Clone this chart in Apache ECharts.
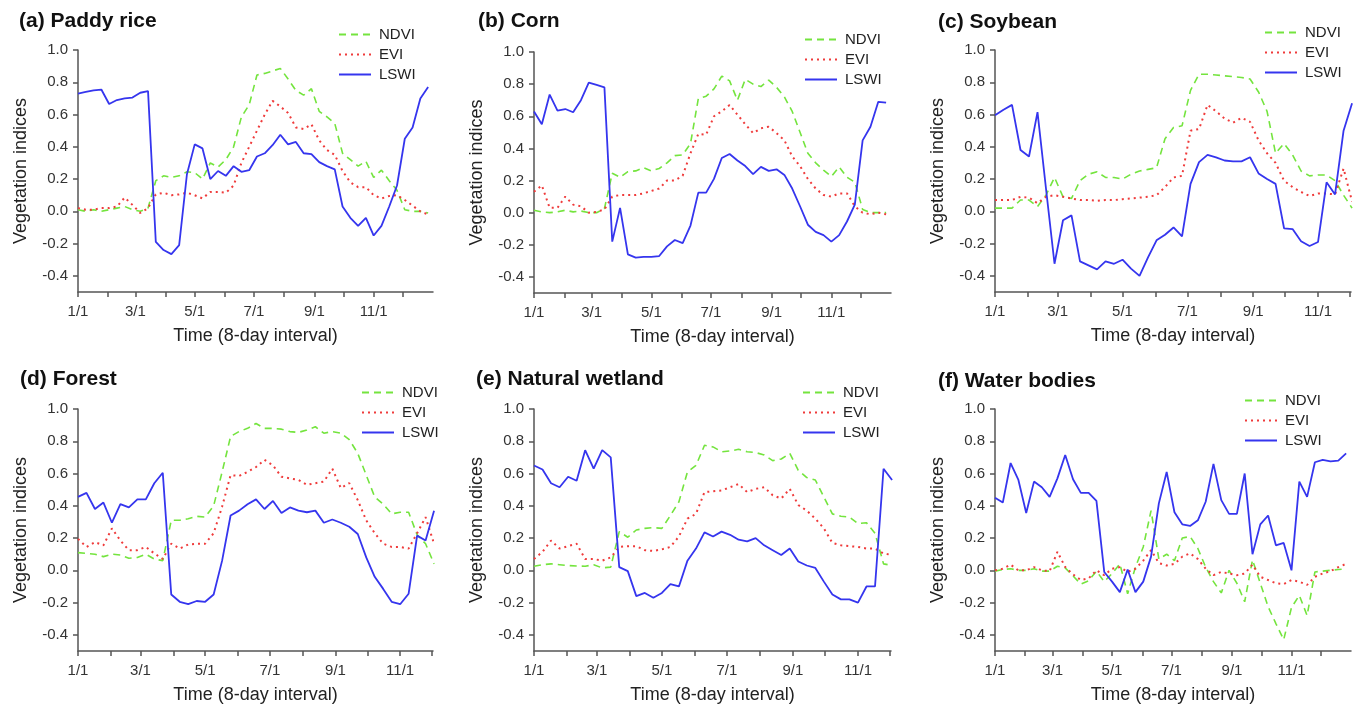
<!DOCTYPE html>
<html>
<head>
<meta charset="utf-8">
<script src="https://cdn.jsdelivr.net/npm/echarts@6/dist/echarts.min.js"></script>
<style>
  html, body { margin: 0; padding: 0; background: #fff; }
  #chart { width: 1358px; height: 708px; }
</style>
</head>
<body>
<div id="chart"></div>
<script>
// day of year of each 8-day composite
var days46 = [0, 8, 16, 24, 32, 40, 48, 56, 64, 72, 80, 88, 96, 104, 112, 120, 128, 136, 144, 152,
  160, 168, 176, 184, 192, 200, 208, 216, 224, 232, 240, 248, 256, 264, 272, 280, 288, 296, 304, 312,
  320, 328, 336, 344, 352, 360];
var days43 = [0, 8, 16, 24, 32, 40, 48, 56, 64, 72, 80, 88, 96, 104, 112, 120, 128, 136, 144, 152,
  160, 168, 176, 184, 192, 200, 208, 216, 224, 232, 240, 248, 256, 264, 272, 280, 288, 296, 304, 312,
  320, 328, 336];

var monthDays = [0, 31, 59, 90, 120, 151, 181, 212, 243, 273, 304, 334];
var labelDays = [0, 59, 120, 181, 243, 304];
var labelText = ['1/1', '3/1', '5/1', '7/1', '9/1', '11/1'];
var yTicks = [-0.4, -0.2, 0, 0.2, 0.4, 0.6, 0.8, 1.0];

var titles = ['(a) Paddy rice', '(b) Corn', '(c) Soybean', '(d) Forest', '(e) Natural wetland', '(f) Water bodies'];
var indexNames = ['NDVI', 'EVI', 'LSWI'];

// (a) Paddy rice
var riceNdvi = [0.01, 0.00, 0.01, 0.00, 0.01, 0.02, 0.03, 0.01, 0.00, 0.02,
  0.19, 0.22, 0.21, 0.22, 0.245, 0.24, 0.20, 0.30, 0.275, 0.32,
  0.40, 0.585, 0.66, 0.845, 0.855, 0.87, 0.886, 0.82, 0.75, 0.72,
  0.76, 0.62, 0.585, 0.545, 0.36, 0.32, 0.28, 0.31, 0.21, 0.255,
  0.19, 0.13, 0.01, 0.00, 0.00, -0.01];
var riceEvi = [0.02, 0.01, 0.01, 0.02, 0.02, 0.03, 0.085, 0.04, -0.01, 0.02,
  0.105, 0.115, 0.10, 0.105, 0.115, 0.10, 0.08, 0.12, 0.12, 0.115,
  0.16, 0.30, 0.40, 0.50, 0.60, 0.685, 0.65, 0.61, 0.52, 0.51,
  0.54, 0.44, 0.38, 0.35, 0.25, 0.18, 0.15, 0.15, 0.10, 0.08,
  0.095, 0.10, 0.07, 0.035, 0.00, -0.02];
var riceLswi = [0.73, 0.74, 0.75, 0.755, 0.665, 0.69, 0.70, 0.705, 0.735, 0.745,
  -0.19, -0.24, -0.265, -0.21, 0.23, 0.415, 0.39, 0.20, 0.25, 0.22,
  0.28, 0.245, 0.255, 0.34, 0.36, 0.41, 0.475, 0.415, 0.43, 0.36,
  0.355, 0.305, 0.28, 0.26, 0.03, -0.04, -0.09, -0.04, -0.15, -0.09,
  0.03, 0.16, 0.45, 0.52, 0.70, 0.77];

// (b) Corn
var cornNdvi = [0.015, 0.005, 0.00, 0.005, 0.015, 0.005, 0.01, 0.00, 0.00, 0.025,
  0.245, 0.22, 0.255, 0.26, 0.28, 0.26, 0.275, 0.31, 0.355, 0.36,
  0.43, 0.71, 0.725, 0.77, 0.85, 0.82, 0.70, 0.83, 0.80, 0.785,
  0.825, 0.78, 0.72, 0.63, 0.50, 0.37, 0.31, 0.265, 0.225, 0.285,
  0.22, 0.19, 0.02, 0.00, 0.00, 0.00];
var cornEvi = [0.13, 0.17, 0.03, 0.03, 0.10, 0.05, 0.04, 0.00, 0.005, 0.02,
  0.10, 0.11, 0.11, 0.11, 0.12, 0.135, 0.15, 0.20, 0.20, 0.23,
  0.37, 0.49, 0.485, 0.60, 0.63, 0.67, 0.61, 0.55, 0.495, 0.525,
  0.535, 0.495, 0.45, 0.35, 0.29, 0.21, 0.15, 0.11, 0.10, 0.12,
  0.12, 0.04, 0.00, -0.01, 0.00, -0.01];
var cornLswi = [0.63, 0.55, 0.735, 0.635, 0.645, 0.625, 0.70, 0.81, 0.795, 0.78,
  -0.18, 0.03, -0.26, -0.28, -0.275, -0.275, -0.27, -0.21, -0.17, -0.19,
  -0.08, 0.125, 0.125, 0.21, 0.34, 0.365, 0.325, 0.29, 0.24, 0.285,
  0.26, 0.27, 0.235, 0.15, 0.04, -0.075, -0.12, -0.14, -0.18, -0.14,
  -0.055, 0.05, 0.45, 0.535, 0.69, 0.685];

// (c) Soybean
var soyNdvi = [0.02, 0.02, 0.02, 0.07, 0.07, 0.03, 0.10, 0.21, 0.09, 0.08,
  0.19, 0.23, 0.245, 0.21, 0.21, 0.20, 0.23, 0.25, 0.26, 0.27,
  0.45, 0.52, 0.53, 0.75, 0.85, 0.85, 0.845, 0.84, 0.835, 0.83,
  0.82, 0.74, 0.62, 0.36, 0.42, 0.35, 0.25, 0.22, 0.225, 0.225,
  0.19, 0.10, 0.02];
var soyEvi = [0.07, 0.07, 0.07, 0.09, 0.085, 0.05, 0.09, 0.10, 0.09, 0.08,
  0.07, 0.07, 0.065, 0.07, 0.07, 0.075, 0.08, 0.085, 0.09, 0.10,
  0.15, 0.21, 0.22, 0.50, 0.51, 0.66, 0.62, 0.575, 0.55, 0.58,
  0.555, 0.44, 0.36, 0.30, 0.19, 0.15, 0.12, 0.095, 0.11, 0.11,
  0.105, 0.265, 0.06];
var soyLswi = [0.595, 0.63, 0.66, 0.38, 0.34, 0.615, 0.14, -0.325, -0.055, -0.025,
  -0.31, -0.335, -0.36, -0.31, -0.325, -0.30, -0.355, -0.40, -0.285, -0.18,
  -0.145, -0.10, -0.155, 0.17, 0.305, 0.35, 0.335, 0.315, 0.31, 0.31,
  0.335, 0.235, 0.20, 0.17, -0.105, -0.11, -0.185, -0.215, -0.19, 0.18,
  0.105, 0.50, 0.67];

// (d) Forest
var forestNdvi = [0.11, 0.105, 0.10, 0.085, 0.10, 0.095, 0.075, 0.08, 0.10, 0.07,
  0.06, 0.31, 0.31, 0.32, 0.335, 0.33, 0.40, 0.61, 0.83, 0.86,
  0.88, 0.91, 0.88, 0.88, 0.875, 0.86, 0.855, 0.87, 0.89, 0.85,
  0.86, 0.85, 0.81, 0.725, 0.59, 0.455, 0.41, 0.35, 0.36, 0.36,
  0.22, 0.165, 0.04];
var forestEvi = [0.195, 0.145, 0.175, 0.155, 0.26, 0.185, 0.125, 0.125, 0.145, 0.105,
  0.07, 0.165, 0.135, 0.16, 0.165, 0.165, 0.23, 0.395, 0.59, 0.585,
  0.61, 0.64, 0.685, 0.65, 0.58, 0.57, 0.56, 0.53, 0.54, 0.55,
  0.63, 0.51, 0.54, 0.435, 0.31, 0.23, 0.165, 0.145, 0.145, 0.135,
  0.23, 0.33, 0.165];
var forestLswi = [0.455, 0.48, 0.38, 0.42, 0.295, 0.41, 0.39, 0.44, 0.44, 0.54,
  0.605, -0.15, -0.195, -0.21, -0.19, -0.195, -0.15, 0.06, 0.34, 0.37,
  0.41, 0.44, 0.38, 0.43, 0.355, 0.39, 0.37, 0.36, 0.37, 0.295,
  0.315, 0.295, 0.27, 0.225, 0.08, -0.04, -0.115, -0.195, -0.21, -0.145,
  0.215, 0.185, 0.37];

// (e) Natural wetland
var wetNdvi = [0.025, 0.035, 0.04, 0.035, 0.03, 0.027, 0.025, 0.035, 0.015, 0.02,
  0.24, 0.205, 0.25, 0.26, 0.265, 0.26, 0.34, 0.425, 0.61, 0.65,
  0.775, 0.765, 0.735, 0.74, 0.75, 0.735, 0.73, 0.715, 0.68, 0.69,
  0.725, 0.62, 0.575, 0.56, 0.455, 0.35, 0.335, 0.33, 0.29, 0.295,
  0.23, 0.04, 0.03];
var wetEvi = [0.07, 0.115, 0.185, 0.135, 0.15, 0.165, 0.07, 0.07, 0.06, 0.08,
  0.145, 0.15, 0.15, 0.125, 0.12, 0.13, 0.145, 0.21, 0.32, 0.35,
  0.485, 0.49, 0.495, 0.515, 0.535, 0.485, 0.505, 0.515, 0.465, 0.445,
  0.505, 0.405, 0.37, 0.32, 0.26, 0.17, 0.155, 0.15, 0.145, 0.135,
  0.135, 0.105, 0.095];
var wetLswi = [0.65, 0.625, 0.54, 0.515, 0.58, 0.555, 0.745, 0.63, 0.745, 0.70,
  0.02, -0.005, -0.16, -0.14, -0.17, -0.14, -0.085, -0.10, 0.06, 0.135,
  0.235, 0.21, 0.24, 0.22, 0.19, 0.18, 0.20, 0.155, 0.125, 0.095,
  0.135, 0.055, 0.03, 0.015, -0.07, -0.15, -0.18, -0.18, -0.20, -0.10,
  -0.10, 0.63, 0.56];

// (f) Water bodies
var waterNdvi = [-0.005, 0.005, 0.01, 0.00, 0.00, 0.01, -0.005, -0.005, 0.025, 0.015,
  -0.035, -0.085, -0.065, -0.005, -0.07, -0.02, 0.04, -0.145, 0.02, 0.145,
  0.37, 0.07, 0.10, 0.06, 0.20, 0.21, 0.135, 0.02, -0.07, -0.14,
  0.00, -0.08, -0.195, 0.065, -0.08, -0.225, -0.33, -0.43, -0.23, -0.155,
  -0.28, -0.01, -0.005, 0.00, 0.005, 0.01];
var waterEvi = [0.00, 0.01, 0.035, 0.00, 0.00, 0.02, 0.00, -0.005, 0.115, 0.02,
  -0.025, -0.06, -0.05, 0.00, -0.03, 0.01, 0.02, -0.01, 0.01, 0.06,
  0.125, 0.045, 0.03, 0.04, 0.085, 0.105, 0.07, 0.01, -0.03, -0.01,
  -0.02, -0.03, -0.02, 0.035, -0.04, -0.06, -0.08, -0.085, -0.06, -0.07,
  -0.09, -0.04, -0.02, -0.005, 0.02, 0.04];
var waterLswi = [0.45, 0.42, 0.665, 0.56, 0.355, 0.55, 0.515, 0.455, 0.57, 0.715,
  0.565, 0.48, 0.48, 0.43, -0.01, -0.07, -0.135, 0.005, -0.135, -0.07,
  0.085, 0.415, 0.61, 0.36, 0.285, 0.275, 0.31, 0.425, 0.66, 0.435,
  0.35, 0.35, 0.60, 0.10, 0.285, 0.34, 0.155, 0.17, 0.00, 0.55,
  0.455, 0.67, 0.685, 0.675, 0.68, 0.725];

var panelDays = [days46, days46, days43, days43, days43, days46];
var panelValues = [
  [riceNdvi, riceEvi, riceLswi],
  [cornNdvi, cornEvi, cornLswi],
  [soyNdvi, soyEvi, soyLswi],
  [forestNdvi, forestEvi, forestLswi],
  [wetNdvi, wetEvi, wetLswi],
  [waterNdvi, waterEvi, waterLswi]
];

// layout of each panel: grid [left, top, width, height], x max, title and legend anchors
var layout = [
  { grid: [78, 50, 355, 242], xMax: 365, title: [19, 11], legend: [338, 27] },
  { grid: [534, 52, 357, 241], xMax: 365, title: [478, 11], legend: [804, 32] },
  { grid: [995, 50, 356, 242], xMax: 335, title: [938, 12], legend: [1264, 25] },
  { grid: [78, 409, 355, 242], xMax: 335, title: [20, 369], legend: [361, 385] },
  { grid: [534, 409, 357, 242], xMax: 335, title: [476, 369], legend: [802, 385] },
  { grid: [995, 409, 356, 242], xMax: 365, title: [938, 371], legend: [1244, 393] }
];

var font = '"Liberation Sans", Arial, sans-serif';
var lineStyles = [
  { color: '#74e43e', width: 1.6, type: [7, 5] },
  { color: '#ef3b3b', width: 2, type: [2, 4] },
  { color: '#3535ee', width: 1.8, type: 'solid' }
];

function pairs(xs, ys) {
  var out = [];
  for (var i = 0; i < ys.length; i++) {
    out.push([xs[i], ys[i]]);
  }
  return out;
}

var grids = [], xAxes = [], yAxes = [], series = [], titleList = [], legends = [];

for (var p = 0; p < 6; p++) {
  var L = layout[p];
  grids.push({ left: L.grid[0], top: L.grid[1], width: L.grid[2], height: L.grid[3] });

  titleList.push({
    text: titles[p], left: L.title[0], top: L.title[1], padding: 0,
    textStyle: { fontFamily: font, fontSize: 21, fontWeight: 'bold', color: '#111' }
  });

  // line-only legend keys: hide the symbol drawn in the middle
  legends.push({
    left: L.legend[0], top: L.legend[1], orient: 'vertical', padding: 0,
    itemGap: 5, itemWidth: 32, itemHeight: 14, selectedMode: false,
    data: indexNames,
    itemStyle: { opacity: 0 },
    textStyle: { fontFamily: font, fontSize: 15, color: '#222', padding: [0, 0, 0, 3] }
  });

  xAxes.push({
    gridIndex: p, type: 'value', min: 0, max: L.xMax,
    name: 'Time (8-day interval)', nameLocation: 'middle', nameGap: 35,
    nameTextStyle: { fontFamily: font, fontSize: 18, color: '#222' },
    axisLine: { onZero: false, lineStyle: { color: '#555', width: 1.5 } },
    axisTick: { show: true, length: 5, customValues: monthDays, lineStyle: { color: '#555', width: 1.5 } },
    axisLabel: {
      customValues: labelDays, margin: 12,
      fontFamily: font, fontSize: 15, color: '#333',
      formatter: function (v) { return labelText[labelDays.indexOf(v)]; }
    },
    splitLine: { show: false }
  });

  yAxes.push({
    gridIndex: p, type: 'value', min: -0.5, max: 1.0,
    name: 'Vegetation indices', nameLocation: 'middle', nameGap: 48,
    nameTextStyle: { fontFamily: font, fontSize: 18, color: '#222' },
    axisLine: { show: true, onZero: false, lineStyle: { color: '#555', width: 1.5 } },
    axisTick: { show: true, length: 5, customValues: yTicks, lineStyle: { color: '#555', width: 1.5 } },
    axisLabel: {
      customValues: yTicks, margin: 10,
      fontFamily: font, fontSize: 15, color: '#333',
      formatter: function (v) { return v.toFixed(1); }
    },
    splitLine: { show: false }
  });

  for (var k = 0; k < 3; k++) {
    series.push({
      name: indexNames[k], type: 'line', xAxisIndex: p, yAxisIndex: p,
      data: pairs(panelDays[p], panelValues[p][k]),
      symbol: 'none', clip: true,
      lineStyle: lineStyles[k],
      itemStyle: { color: lineStyles[k].color }
    });
  }
}

var option = {
  animation: false,
  backgroundColor: '#fff',
  title: titleList,
  legend: legends,
  grid: grids,
  xAxis: xAxes,
  yAxis: yAxes,
  series: series
};

var chart = echarts.init(document.getElementById('chart'));
chart.setOption(option);
</script>
</body>
</html>
